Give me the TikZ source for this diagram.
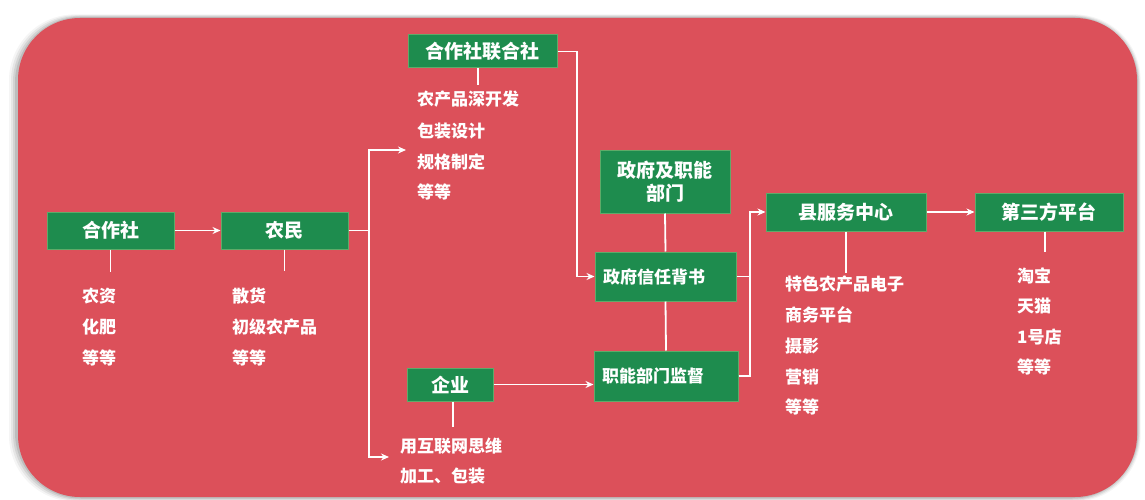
\documentclass[tikz,border=0pt]{standalone}
\usepackage{fontspec}
\setmainfont{Noto Sans CJK SC}
\usetikzlibrary{arrows.meta}
\definecolor{panelred}{RGB}{220,80,90}
\definecolor{boxgreen}{RGB}{30,140,78}
\definecolor{boxedge}{RGB}{95,170,105}
\tikzset{
  box/.style={fill=boxgreen, draw=boxedge, line width=1pt, text=white,
    font=\fontsize{19}{23}\selectfont\bfseries, inner sep=0pt, align=center},
  lbox/.style={box, font=\fontsize{17}{20}\selectfont\bfseries, align=left,
    inner xsep=8pt},
  item/.style={anchor=west, text=white, font=\fontsize{17}{20}\selectfont\bfseries,
    inner sep=0pt, text height=0.88em, text depth=0.12em, yshift=-2pt},
  wline/.style={draw=white, line width=1.8pt},
  arr/.style={wline, -{Stealth[length=8pt,width=7pt]}},
}
\begin{document}
\begin{tikzpicture}[x=1pt,y=-1pt]
\useasboundingbox (0,0) rectangle (1145,500);
\fill[white] (0,0) rectangle (1145,500);
% soft shadow of the panel
\foreach \o/\op in {9/0.04,7/0.06,5/0.08,3/0.10}{
  \fill[black, opacity=\op, rounded corners=66pt] (18-\o,18-\o*0.4) rectangle (1137+\o*0.4,497+\o*0.5);
}
\fill[panelred, rounded corners=62pt] (18,18) rectangle (1137,497);

% boxes
\node[box, minimum width=127pt, minimum height=37pt] (coop) at (110.5,230.5) {合作社};
\node[box, minimum width=127pt, minimum height=37pt] (farmer) at (284.5,230.5) {农民};
\node[box, minimum width=149pt, minimum height=33pt] (union) at (482.5,51.5) {合作社联合社};
\node[box, minimum width=130pt, minimum height=63pt] (gov) at (665,181.5) {政府及职能\\部门};
\node[lbox, minimum width=141pt, minimum height=49pt, text width=125pt] (trust) at (665.5,276.5) {政府信任背书};
\node[lbox, minimum width=144pt, minimum height=50pt, text width=128pt] (supv) at (666,376) {职能部门监督};
\node[box, minimum width=86pt, minimum height=33pt] (ent) at (450,384.5) {企业};
\node[box, minimum width=160pt, minimum height=38pt] (county) at (846,212) {县服务中心};
\node[box, minimum width=148pt, minimum height=38pt] (third) at (1049,212) {第三方平台};

% coordinates
\coordinate (j1) at (369,230.5);
\coordinate (e1) at (406,150);
\coordinate (e2) at (389,457);
\coordinate (c577) at (577,0);
\coordinate (c750) at (750,0);
\coordinate (t1) at (110.5,272);
\coordinate (t2) at (284.5,271);
\coordinate (t3) at (478,85);
\coordinate (t4) at (846,273);
\coordinate (t5) at (1045,252);
\coordinate (t6) at (453,427);

% connectors
\draw[arr] (coop) -- (farmer);
\draw[wline] (farmer.east) -- (j1);
\draw[arr] (j1) |- (e1);
\draw[arr] (j1) |- (e2);
\draw[arr] (union.east) -| (c577 |- trust.west) -- (trust.west);
\draw[wline] (gov.south) -- (trust.north);
\draw[wline] (trust.south) -- (supv.north);
\draw[wline] (trust.east) -- (c750 |- trust.east);
\draw[arr] (supv.east) -| (c750 |- county.west) -- (county.west);
\draw[arr] (county) -- (third);
\draw[arr] (ent.east) -- (ent.east -| supv.west);

% ticks
\draw[wline] (coop.south) -- (t1);
\draw[wline] (farmer.south) -- (t2);
\draw[wline] (union.south -| t3) -- (t3);
\draw[wline] (county.south) -- (t4);
\draw[wline] (third.south -| t5) -- (t5);
\draw[wline] (ent.south -| t6) -- (t6);

% lists
\node[item] (a1) at (82,297) {农资};
\node[item] (a2) at (82,328) {化肥};
\node[item] (a3) at (82,359) {等等};
\node[item] (b1) at (232,297) {散货};
\node[item] (b2) at (232,328) {初级农产品};
\node[item] (b3) at (232,359) {等等};
\node[item] (c1) at (417,100) {农产品深开发};
\node[item] (c2) at (417,132) {包装设计};
\node[item] (c3) at (417,163) {规格制定};
\node[item] (c4) at (417,193) {等等};
\node[item] (d1) at (400,447) {用互联网思维};
\node[item] (d2) at (400,477) {加工、包装};
\node[item] (f1) at (785,285) {特色农产品电子};
\node[item] (f2) at (785,316) {商务平台};
\node[item] (f3) at (785,347) {摄影};
\node[item] (f4) at (785,378) {营销};
\node[item] (f5) at (785,408) {等等};
\node[item] (g1) at (1017,277) {淘宝};
\node[item] (g2) at (1017,307) {天猫};
\node[item] (g3) at (1017,338) {1号店};
\node[item] (g4) at (1017,368) {等等};
\end{tikzpicture}
\end{document}
